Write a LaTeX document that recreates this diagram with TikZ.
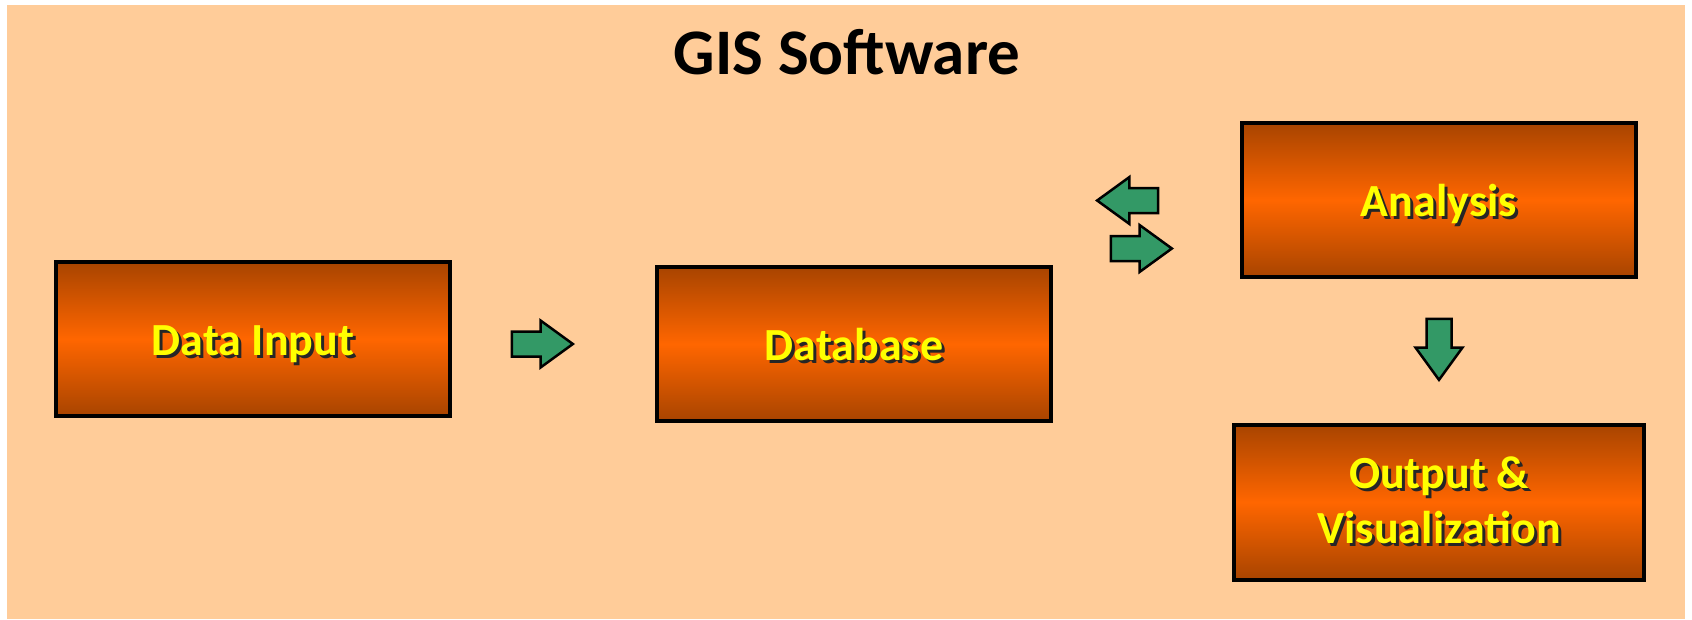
\documentclass[tikz,border=0pt]{standalone}
\usepackage{fontspec}
\setmainfont{Carlito}
\usepackage{xcolor}
\usepackage{tikz}
\usetikzlibrary{shapes,shapes.arrows,positioning,calc}

\definecolor{bgpeach}{HTML}{FFCC99}
\definecolor{boxdark}{HTML}{A84400}
\definecolor{boxorange}{HTML}{FF6600}
\definecolor{arrowgreen}{HTML}{339966}
\definecolor{labelyellow}{HTML}{FFFF00}

% yellow label with a dark shadow behind it
\newcommand{\shadowed}[1]{\makebox[0pt][l]{\hspace{3pt}\raisebox{-3pt}{\textcolor{black!85}{#1}}}#1}

\begin{document}
\begin{tikzpicture}[
    x=1pt, y=-1pt,
    block/.style={rectangle, draw=black, line width=4pt, top color=boxdark, bottom color=boxdark, middle color=boxorange, minimum width=394pt, minimum height=154pt, align=center, text=labelyellow, font=\fontsize{46}{55}\selectfont\bfseries},
    oneline/.style={text height=32pt, text depth=0pt},
    bigarrow/.style={single arrow, draw=black, line width=2.5pt, fill=arrowgreen, minimum height=61pt, minimum width=45pt, single arrow head extend=11pt, single arrow tip angle=72, inner sep=11.25pt, anchor=tip},
    title/.style={font=\fontsize{65}{78}\selectfont\bfseries}
]

% Frame
\useasboundingbox (0,0) rectangle (1692,619);
\fill[bgpeach] (7,5) rectangle (1685,619);

\node[title] (title) at (847,52) {GIS Software};

% Boxes
\node[block, oneline] (input) at (253,339) {\shadowed{Data Input}};
\node[block, oneline] (db) at (854,344) {\shadowed{Database}};
\node[block, oneline] (analysis) at (1439,200) {\shadowed{Analysis}};
\node[block, minimum width=410pt, minimum height=155pt] (output) at (1439,502) {\shadowed{Output \&}\\\shadowed{Visualization}};

% Block arrows (placed by their tips)
\node[bigarrow] (in-db) at (575,344) {};
\node[bigarrow, shape border rotate=180] (an-db) at (1095,200.5) {};
\node[bigarrow] (db-an) at (1174,248.5) {};
\node[bigarrow, shape border rotate=270] (an-out) at (1439,382) {};

\end{tikzpicture}
\end{document}
